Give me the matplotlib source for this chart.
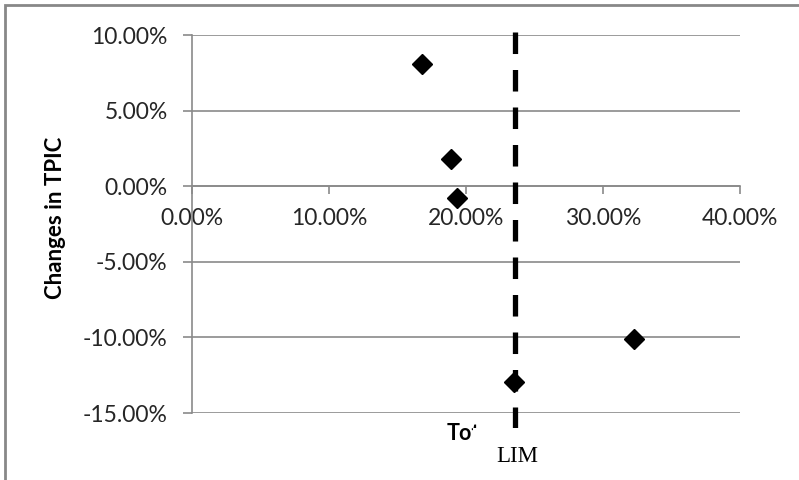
import matplotlib
matplotlib.use("Agg")
import matplotlib.pyplot as plt
from matplotlib.patches import Rectangle
from matplotlib.ticker import FuncFormatter

plt.rcParams['lines.scale_dashes'] = False

# Data (fractions)
x_vals = [0.1677, 0.189, 0.1932, 0.3226, 0.2353]
y_vals = [0.0806, 0.0179, -0.0077, -0.1013, -0.1296]
lim_x = 0.236
lim_y = [0.102, -0.160]
x_ticks = [0.0, 0.10, 0.20, 0.30, 0.40]
y_ticks = [0.10, 0.05, 0.0, -0.05, -0.10, -0.15]
y_label = "Changes in TPIC"
x_label = "Total"
lim_label = "LIM"

W, H = 799, 480
fig = plt.figure(figsize=(W / 100, H / 100), dpi=100)
ax = fig.add_axes([192 / W, 1 - 413 / H, (740 - 192) / W, (413 - 35) / H])
ax.set_zorder(0)

grid_c = '#8a8a8a'
ax.set_xlim(0, 0.40)
ax.set_ylim(-0.15, 0.10)
ax.set_xticks(x_ticks)
ax.set_yticks(y_ticks)
fmt = FuncFormatter(lambda v, p: f"{v*100:.2f}%")
ax.xaxis.set_major_formatter(fmt)
ax.yaxis.set_major_formatter(fmt)

for sp in ['top', 'right']:
    ax.spines[sp].set_visible(False)
ax.spines['left'].set_color(grid_c)
ax.spines['left'].set_linewidth(1.2)
ax.spines['bottom'].set_position(('data', 0))
ax.spines['bottom'].set_color(grid_c)
ax.spines['bottom'].set_linewidth(1.2)

ax.yaxis.grid(True, color=grid_c, linewidth=1.2)
ax.set_axisbelow(True)
ax.tick_params(axis='y', direction='out', length=6.5, width=1.2, color=grid_c,
               pad=11, labelsize=16.5, labelcolor='#262626')
ax.tick_params(axis='x', direction='out', length=5.5, width=1.2, color=grid_c,
               pad=10, labelsize=16.5, labelcolor='#262626')
for lab in ax.get_xticklabels() + ax.get_yticklabels():
    lab.set_family('Lato')

ax.plot(x_vals, y_vals, linestyle='none', marker='D', markersize=10,
        color='black', zorder=3)

ax.plot([lim_x, lim_x], lim_y, color='black', linewidth=3.8,
        linestyle=(0, (15.5, 11.5)), clip_on=False, zorder=4)

# frame
fig.add_artist(Rectangle((5 / W, -0.1), 1.2, 1 - 5 / H + 0.1,
                         transform=fig.transFigure, fill=False,
                         edgecolor='#888888', linewidth=2, zorder=0.5))

fig.text(56 / W, 1 - 218 / H, y_label, rotation=90, ha='center', va='center',
         fontsize=16, fontweight='bold', family='Lato', color='black', zorder=1)
xl_kw = dict(ha='left', va='baseline', fontsize=15.5, fontweight='bold',
             family='Lato', color='black', zorder=1)
fig.text(447 / W, 1 - 440 / H, x_label, **xl_kw)

# measure the visible part ("To") to place the covering box edge
probe = fig.text(447 / W, 1 - 440 / H, x_label[:2], **xl_kw)
fig.canvas.draw()
ext = probe.get_window_extent(renderer=fig.canvas.get_renderer())
probe.remove()
box_left = ext.x1 + 1.0

# white text box (covers the rest of the axis title)
fig.add_artist(Rectangle((box_left / W, -0.05), 90 / W, (480 - 428) / H + 0.05,
                         transform=fig.transFigure, facecolor='white',
                         edgecolor='none', zorder=5))
fig.add_artist(Rectangle(((box_left + 11) / W, -0.05), (508 - box_left - 11) / W,
                         (480 - 418) / H + 0.05,
                         transform=fig.transFigure, facecolor='white',
                         edgecolor='none', zorder=5))
fig.text(496 / W, 1 - 462 / H, lim_label, ha='left', va='baseline',
         fontsize=16.5, family='Liberation Serif', color='black', zorder=6)

fig.savefig('out.png', dpi=100)
